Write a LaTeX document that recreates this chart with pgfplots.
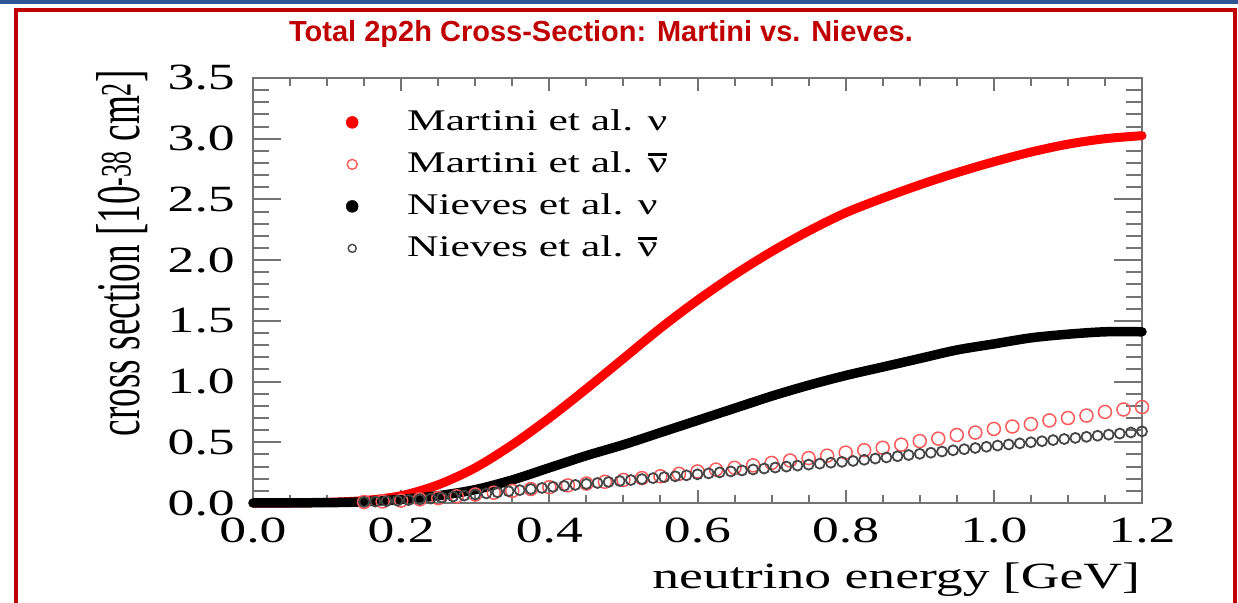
\documentclass[border=0pt]{standalone}
\usepackage{fontspec}
\setmainfont{Liberation Serif}[FakeStretch=1.45]
\newfontfamily\ylabfont{Liberation Serif}[FakeStretch=0.6]
\newfontfamily\titlefont{Liberation Sans}
\usepackage{pgfplots}
\pgfplotsset{compat=1.18}
\usepackage{pgfplotstable}
\definecolor{framered}{RGB}{192,0,0}
\definecolor{topblue}{RGB}{47,85,151}
\definecolor{axgray}{RGB}{115,115,115}
\definecolor{openred}{RGB}{255,90,90}
\definecolor{opengray}{RGB}{70,70,70}
\newcommand\nubar{\ooalign{ν\cr\hidewidth\rule[0.56em]{0.62em}{0.08em}\hidewidth\cr}}

\pgfplotstableread{
x y
0.00 0.000
0.05 0.000
0.10 0.005
0.15 0.02
0.20 0.06
0.25 0.15
0.30 0.29
0.35 0.48
0.40 0.70
0.45 0.94
0.50 1.19
0.55 1.44
0.60 1.67
0.65 1.88
0.70 2.07
0.75 2.24
0.80 2.39
0.85 2.51
0.90 2.62
0.95 2.72
1.00 2.81
1.05 2.89
1.10 2.955
1.15 3.00
1.20 3.025
}\martininu

\pgfplotstableread{
x y
0.00 0.000
0.10 0.003
0.15 0.01
0.20 0.03
0.25 0.06
0.30 0.11
0.35 0.19
0.40 0.29
0.45 0.39
0.50 0.48
0.55 0.58
0.60 0.68
0.65 0.78
0.70 0.88
0.75 0.97
0.80 1.05
0.85 1.12
0.90 1.19
0.95 1.26
1.00 1.31
1.05 1.36
1.10 1.39
1.15 1.41
1.20 1.41
}\nievesnu

\pgfplotstableread{
x y
0.150 0.008
0.175 0.013
0.200 0.020
0.225 0.030
0.250 0.040
0.275 0.055
0.300 0.070
0.325 0.085
0.350 0.100
0.375 0.115
0.400 0.130
0.425 0.145
0.450 0.160
0.475 0.175
0.500 0.190
0.525 0.205
0.550 0.220
0.575 0.240
0.600 0.260
0.625 0.275
0.650 0.290
0.675 0.310
0.700 0.330
0.725 0.350
0.750 0.370
0.775 0.390
0.800 0.415
0.825 0.435
0.850 0.455
0.875 0.480
0.900 0.510
0.925 0.530
0.950 0.560
0.975 0.580
1.000 0.610
1.025 0.630
1.050 0.650
1.075 0.680
1.100 0.700
1.125 0.720
1.150 0.750
1.175 0.770
1.200 0.790
}\martininubar

\pgfplotstableread{
x y
0.150 0.009
0.165 0.012
0.180 0.015
0.195 0.019
0.210 0.024
0.225 0.030
0.240 0.037
0.255 0.045
0.270 0.053
0.285 0.061
0.300 0.070
0.315 0.079
0.330 0.088
0.345 0.097
0.360 0.106
0.375 0.115
0.390 0.124
0.405 0.133
0.420 0.141
0.435 0.149
0.450 0.157
0.465 0.165
0.480 0.173
0.495 0.181
0.510 0.189
0.525 0.197
0.540 0.205
0.555 0.213
0.570 0.220
0.585 0.228
0.600 0.236
0.615 0.244
0.630 0.252
0.645 0.260
0.660 0.268
0.675 0.276
0.690 0.284
0.705 0.292
0.720 0.300
0.735 0.308
0.750 0.316
0.765 0.324
0.780 0.332
0.795 0.339
0.810 0.346
0.825 0.356
0.840 0.366
0.855 0.375
0.870 0.385
0.885 0.395
0.900 0.405
0.915 0.414
0.930 0.424
0.945 0.434
0.960 0.443
0.975 0.453
0.990 0.463
1.005 0.473
1.020 0.482
1.035 0.491
1.050 0.500
1.065 0.509
1.080 0.518
1.095 0.527
1.110 0.536
1.125 0.545
1.140 0.554
1.155 0.563
1.170 0.572
1.185 0.581
1.200 0.590
}\nievesnubar

\begin{document}
\begin{tikzpicture}[x=1pt,y=1pt]
\path[use as bounding box] (0,0) rectangle (1238,602);
\clip (0,0) rectangle (1238,602);
\fill[topblue] (0,598) rectangle (1238,602);
\draw[framered, line width=4pt] (16,-20) rectangle (1235,592);
\node[anchor=base, text=framered, font=\titlefont\bfseries\fontsize{29}{32}\selectfont] at (601,560) {Total 2p2h Cross-Section: Martini vs. Nieves.};

% y ticks axis
\begin{axis}[
  at={(253pt,99pt)}, anchor=south west, scale only axis,
  width=889pt, height=425pt,
  xmin=0, xmax=1.2, ymin=0, ymax=3.5,
  axis line style={draw=none},
  xtick=\empty,
  ytick={0,0.5,1,1.5,2,2.5,3,3.5},
  minor y tick num=4,
  tick align=inside,
  major tick length=28pt, minor tick length=16pt,
  tick style={axgray, line width=2pt},
  yticklabel={\pgfmathprintnumber[fixed,fixed zerofill,precision=1,assume math mode=true]{\tick}},
  yticklabel style={font=\fontsize{37}{40}\selectfont, inner sep=0pt, anchor=east, xshift=-18pt},
  ylabel={\ylabfont cross section [10\textsuperscript{-38} cm\textsuperscript{2}]},
  ylabel style={at={(axis description cs:-0.147,0.588)}, anchor=center, font=\fontsize{62}{66}\selectfont},
]
\end{axis}

\begin{axis}[
  at={(253pt,99pt)}, anchor=south west, scale only axis,
  width=889pt, height=425pt,
  xmin=0, xmax=1.2, ymin=0, ymax=3.5,
  clip=false,
  axis line style={axgray, line width=2.5pt},
  xtick={0,0.2,0.4,0.6,0.8,1.0,1.2},
  minor x tick num=3,
  ytick=\empty,
  tick align=inside,
  major tick length=13pt, minor tick length=8pt,
  tick style={axgray, line width=2pt},
  xticklabel={\pgfmathprintnumber[fixed,fixed zerofill,precision=1,assume math mode=true]{\tick}},
  xticklabel style={font=\fontsize{37}{40}\selectfont, inner sep=0pt, anchor=north, yshift=-15pt},
  xlabel={neutrino energy [GeV]},
  xlabel style={at={(axis description cs:0.998,-0.2)}, anchor=base east, font=\fontsize{37}{40}\selectfont, inner sep=0pt},
  legend style={at={(0.099,0.929)}, anchor=north west, draw=none, fill=none, inner sep=0pt,
    font=\fontsize{30}{33}\selectfont, row sep=14pt, column sep=0pt,
    nodes={inner sep=0pt, text height=22pt, text depth=6pt}},
  legend cell align=left,
]
\addplot[only marks, mark=o, mark size=6.5pt, mark options={openred, line width=1.5pt}, forget plot] table {\martininubar};
\addplot[only marks, mark=o, mark size=5pt, mark options={opengray, line width=1.8pt}, forget plot] table {\nievesnubar};
\addplot[red, line width=9pt, line cap=round, line join=round, smooth, forget plot] table {\martininu};
\addplot[black, line width=9.5pt, line cap=round, line join=round, smooth, forget plot] table {\nievesnu};

\addlegendimage{legend image code/.code={\path[draw=none,fill=none] (0pt,-1pt) rectangle (66pt,1pt); \fill[red] (11pt,0pt) circle (6pt);}}
\addlegendentry{Martini et al. ν}
\addlegendimage{legend image code/.code={\path[draw=none,fill=none] (0pt,-1pt) rectangle (66pt,1pt); \draw[openred, line width=1.4pt] (11pt,0pt) circle (5pt);}}
\addlegendentry{Martini et al. \nubar}
\addlegendimage{legend image code/.code={\path[draw=none,fill=none] (0pt,-1pt) rectangle (66pt,1pt); \fill[black] (11pt,0pt) circle (6pt);}}
\addlegendentry{Nieves et al. ν}
\addlegendimage{legend image code/.code={\path[draw=none,fill=none] (0pt,-1pt) rectangle (66pt,1pt); \draw[opengray, line width=1.4pt] (11pt,0pt) circle (4pt);}}
\addlegendentry{Nieves et al. \nubar}
\end{axis}
\end{tikzpicture}
\end{document}
